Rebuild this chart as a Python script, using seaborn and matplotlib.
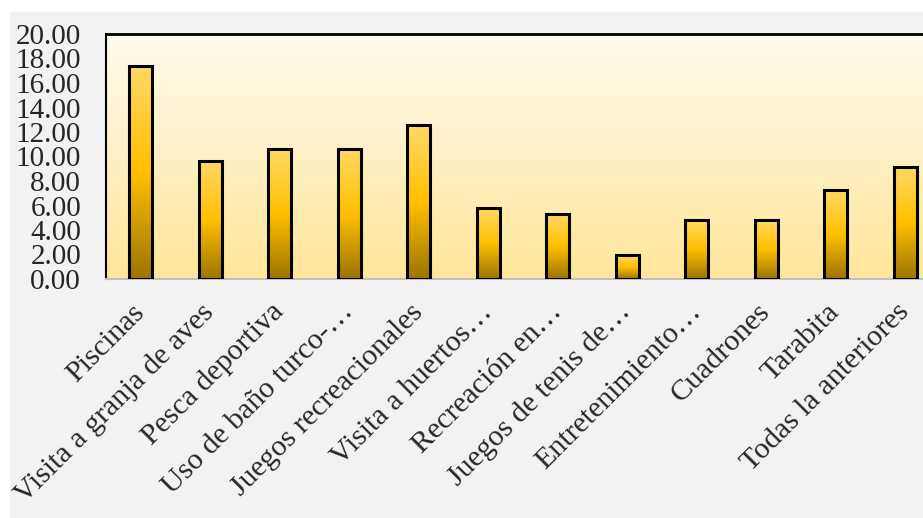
import numpy as np
import pandas as pd
import seaborn as sns
import matplotlib.pyplot as plt
from matplotlib.colors import LinearSegmentedColormap
from matplotlib.patches import Rectangle
from matplotlib.ticker import FormatStrFormatter

# Data
categorias = ["Piscinas", "Visita a granja de aves", "Pesca deportiva",
              "Uso de baño turco-…", "Juegos recreacionales", "Visita a huertos…",
              "Recreación en…", "Juegos de tenis de…", "Entretenimiento…",
              "Cuadrones", "Tarabita", "Todas la anteriores"]
porcentajes = [17.39, 9.66, 10.63, 10.63, 12.56, 5.80, 5.31, 1.93, 4.83, 4.83, 7.25, 9.18]

df = pd.DataFrame({"actividad": categorias, "pct": porcentajes})

sns.set_style("white")
plt.rcParams['font.family'] = ['Liberation Serif', 'DejaVu Serif']

W, H = 923, 518
fig = plt.figure(figsize=(W / 100, H / 100), dpi=100, facecolor="white")
# gray chart area (small white margin at top/left like the original)
fig.patches.append(Rectangle((10 / W, 0), 1, (H - 12) / H, transform=fig.transFigure,
                             facecolor="#f2f2f2", edgecolor="none", zorder=-10))

ax = fig.add_axes([106 / W, (H - 279) / H, (940 - 106) / W, (279 - 34) / H])

sns.barplot(data=df, x="actividad", y="pct", ax=ax, width=0.33,
            edgecolor="black", linewidth=2.2, color="#ffc000", zorder=3)

# plot-area gradient background
bg_cmap = LinearSegmentedColormap.from_list("bg", ["#ffe699", "#fff0c4", "#fffbf0"])
grad = np.linspace(0, 1, 256).reshape(-1, 1)
ax.imshow(grad, cmap=bg_cmap, origin="lower", extent=[0, 1, 0, 1],
          transform=ax.transAxes, aspect="auto", zorder=0)

# gold gradient inside each bar
bar_cmap = LinearSegmentedColormap.from_list(
    "bar", [(0, "#9c7400"), (0.5, "#ffc000"), (1, "#ffd966")])
for p in ax.patches:
    x0, w, h = p.get_x(), p.get_width(), p.get_height()
    im = ax.imshow(grad, cmap=bar_cmap, origin="lower", extent=[x0, x0 + w, 0, h],
                   aspect="auto", zorder=2)
    im.set_clip_path(p)
    p.set_facecolor("none")

ax.set_xlim(-0.5, len(categorias) - 0.5)
ax.set_ylim(0, 20)
ax.set_yticks(np.arange(0, 21, 2))
ax.yaxis.set_major_formatter(FormatStrFormatter("%.2f"))
ax.set_xlabel("")
ax.set_ylabel("")

for s in ["left", "top"]:
    ax.spines[s].set_color("black")
ax.spines["left"].set_linewidth(1.5)
ax.spines["top"].set_linewidth(2)
ax.spines["bottom"].set_color("#bfbfbf")
ax.spines["bottom"].set_linewidth(1.5)
ax.spines["right"].set_visible(False)

ax.tick_params(axis="y", length=0, pad=18, labelsize=21)
ax.tick_params(axis="x", length=0, pad=21, labelsize=21.5)
for lbl in ax.get_xticklabels():
    lbl.set_rotation(45)
    lbl.set_ha("right")
    lbl.set_va("center")
    lbl.set_rotation_mode("anchor")

fig.savefig("out.png", dpi=100, facecolor=fig.get_facecolor())
